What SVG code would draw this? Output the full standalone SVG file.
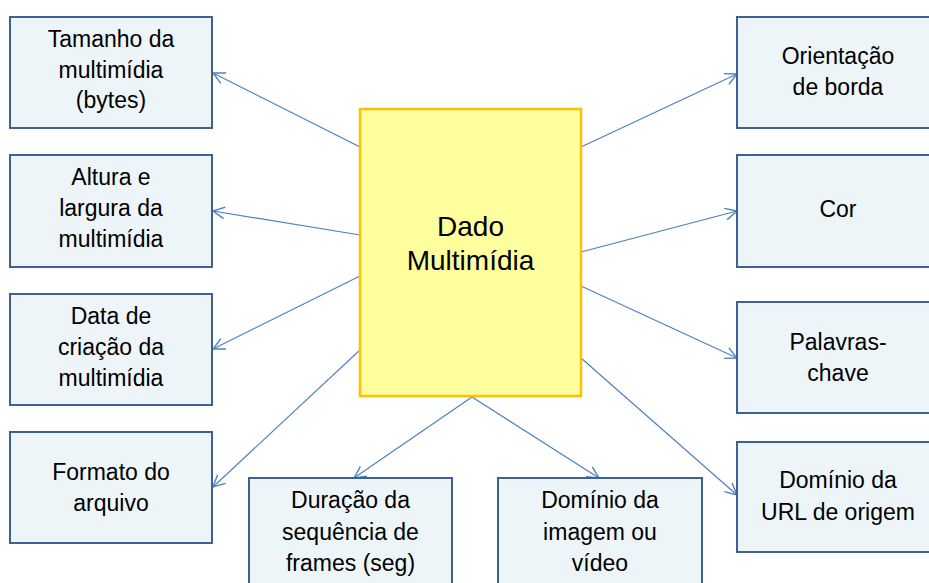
<svg xmlns="http://www.w3.org/2000/svg" width="929" height="583" viewBox="0 0 929 583">
<defs>
<marker id="arr" markerUnits="userSpaceOnUse" markerWidth="14" markerHeight="14" viewBox="0 0 12 12" refX="11" refY="6" orient="auto">
<path d="M1,1 L11,6 L1,11" fill="none" stroke="#4F81BD" stroke-width="1.2"/>
</marker>
<style>
.box{fill:#EEF5F9;stroke:#3D6194;stroke-width:2}
.main{fill:#FFFF9E;stroke:#FFC000;stroke-width:2.5}
.t{font-family:"Liberation Sans",Arial,sans-serif;font-size:23px;fill:#000;text-anchor:middle}
.tm{font-family:"Liberation Sans",Arial,sans-serif;font-size:28px;fill:#000;text-anchor:middle}
.c{stroke:#4F81BD;stroke-width:1.2;fill:none;marker-end:url(#arr)}
</style>
</defs>
<rect width="929" height="583" fill="#fff"/>
<g id="connectors">
<line class="c" x1="360" y1="147" x2="213" y2="73"/>
<line class="c" x1="360" y1="235" x2="213" y2="211"/>
<line class="c" x1="360" y1="276" x2="213" y2="349"/>
<line class="c" x1="360" y1="350" x2="213" y2="487"/>
<line class="c" x1="472" y1="397" x2="354" y2="478"/>
<line class="c" x1="472" y1="397" x2="599" y2="478"/>
<line class="c" x1="581" y1="147" x2="737" y2="74"/>
<line class="c" x1="581" y1="252" x2="737" y2="211"/>
<line class="c" x1="581" y1="286" x2="737" y2="358"/>
<line class="c" x1="581" y1="358" x2="737" y2="495"/>
</g>
<g id="dado">
<rect class="main" x="360" y="109" width="221" height="287"/>
<text class="tm" x="470.5" y="236">Dado</text>
<text class="tm" x="470.5" y="270">Multimídia</text>
</g>
<g id="tamanho">
<rect class="box" x="10" y="17" width="202" height="111"/>
<text class="t" x="111" y="47">Tamanho da</text>
<text class="t" x="111" y="78">multimídia</text>
<text class="t" x="111" y="108">(bytes)</text>
</g>
<g id="altura">
<rect class="box" x="10" y="155" width="202" height="112"/>
<text class="t" x="111" y="185">Altura e</text>
<text class="t" x="111" y="216">largura da</text>
<text class="t" x="111" y="247">multimídia</text>
</g>
<g id="data">
<rect class="box" x="10" y="294" width="202" height="111"/>
<text class="t" x="111" y="324">Data de</text>
<text class="t" x="111" y="355">criação da</text>
<text class="t" x="111" y="386">multimídia</text>
</g>
<g id="formato">
<rect class="box" x="10" y="432" width="202" height="111"/>
<text class="t" x="111" y="480">Formato do</text>
<text class="t" x="111" y="511">arquivo</text>
</g>
<g id="duracao">
<rect class="box" x="249" y="478" width="203" height="120"/>
<text class="t" x="350.5" y="508">Duração da</text>
<text class="t" x="350.5" y="540">sequência de</text>
<text class="t" x="350.5" y="571">frames (seg)</text>
</g>
<g id="dominio-imagem">
<rect class="box" x="498" y="478" width="204" height="120"/>
<text class="t" x="600" y="508">Domínio da</text>
<text class="t" x="600" y="540">imagem ou</text>
<text class="t" x="600" y="571">vídeo</text>
</g>
<g id="orientacao">
<rect class="box" x="737" y="17" width="202" height="111"/>
<text class="t" x="838" y="64">Orientação</text>
<text class="t" x="838" y="95">de borda</text>
</g>
<g id="cor">
<rect class="box" x="737" y="155" width="202" height="112"/>
<text class="t" x="838" y="217">Cor</text>
</g>
<g id="palavras">
<rect class="box" x="737" y="302" width="202" height="111"/>
<text class="t" x="838" y="350">Palavras-</text>
<text class="t" x="838" y="381">chave</text>
</g>
<g id="dominio-url">
<rect class="box" x="737" y="442" width="202" height="110"/>
<text class="t" x="838" y="488">Domínio da</text>
<text class="t" x="838" y="520">URL de origem</text>
</g>
</svg>
